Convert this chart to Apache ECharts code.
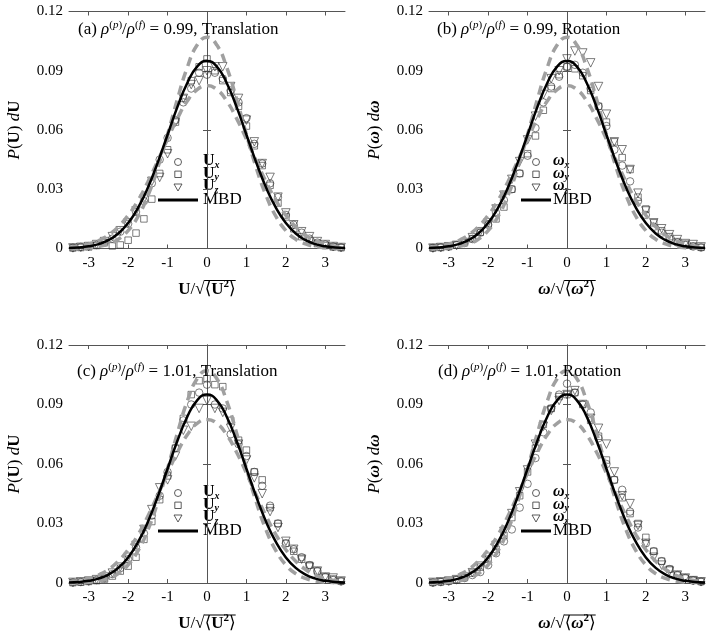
<!DOCTYPE html>
<html><head><meta charset="utf-8">
<script src="https://cdn.jsdelivr.net/npm/echarts@6/dist/echarts.min.js"></script>
<style>html,body{margin:0;padding:0;background:#fff}#c{width:714px;height:641px}</style>
</head><body><div id="c"></div>
<script>
// bin centres of the histograms
const xs = [-3.4,-3.2,-3.0,-2.8,-2.6,-2.4,-2.2,-2.0,-1.8,-1.6,-1.4,-1.2,-1.0,-0.8,-0.6,-0.4,-0.2,0,0.2,0.4,0.6,0.8,1.0,1.2,1.4,1.6,1.8,2.0,2.2,2.4,2.6,2.8,3.0,3.2,3.4];
// x positions of the curves
const xc = [-3.5,-3.25,-3.0,-2.75,-2.5,-2.25,-2.0,-1.75,-1.5,-1.25,-1.0,-0.75,-0.5,-0.25,0,0.25,0.5,0.75,1.0,1.25,1.5,1.75,2.0,2.25,2.5,2.75,3.0,3.25,3.5];
const mbd = [0.0002,0.0005,0.0011,0.0022,0.0042,0.0076,0.0129,0.0206,0.0308,0.0435,0.0576,0.0717,0.0838,0.0921,0.0950,0.0921,0.0838,0.0717,0.0576,0.0435,0.0308,0.0206,0.0129,0.0076,0.0042,0.0022,0.0011,0.0005,0.0002];
const dashHigh = [0.0001,0.0002,0.0004,0.0010,0.0023,0.0047,0.0091,0.0162,0.0267,0.0408,0.0577,0.0756,0.0917,0.1030,0.1070,0.1030,0.0917,0.0756,0.0577,0.0408,0.0267,0.0162,0.0091,0.0047,0.0023,0.0010,0.0004,0.0002,0.0001];
const dashLow = [0.0006,0.0012,0.0023,0.0040,0.0068,0.0110,0.0168,0.0243,0.0337,0.0443,0.0554,0.0659,0.0747,0.0805,0.0825,0.0805,0.0747,0.0659,0.0554,0.0443,0.0337,0.0243,0.0168,0.0110,0.0068,0.0040,0.0023,0.0012,0.0006];

// (a) 0.99 translation
const aX = [0.0004,0.0008,0.0012,0.0018,0.0030,0.0050,0.0085,0.0125,0.0185,0.0240,0.0330,0.0450,0.0560,0.0650,0.0740,0.0810,0.0890,0.0880,0.0890,0.0860,0.0800,0.0740,0.0660,0.0530,0.0430,0.0330,0.0260,0.0170,0.0120,0.0080,0.0050,0.0030,0.0020,0.0010,0.0006];
const aY = [0.0003,0.0005,0.0008,0.0015,0.0030,0.0013,0.0018,0.0042,0.0078,0.0150,0.0250,0.0380,0.0500,0.0640,0.0760,0.0850,0.0920,0.0960,0.0900,0.0850,0.0790,0.0720,0.0620,0.0520,0.0420,0.0320,0.0230,0.0160,0.0100,0.0060,0.0040,0.0025,0.0015,0.0008,0.0004];
const aZ = [0.0003,0.0006,0.0010,0.0020,0.0035,0.0060,0.0090,0.0130,0.0190,0.0250,0.0340,0.0360,0.0480,0.0640,0.0760,0.0830,0.0850,0.0900,0.0920,0.0920,0.0820,0.0760,0.0650,0.0540,0.0430,0.0360,0.0260,0.0180,0.0120,0.0085,0.0060,0.0035,0.0020,0.0010,0.0005];
// (b) 0.99 rotation
const bX = [0.0003,0.0006,0.0010,0.0017,0.0028,0.0048,0.0080,0.0120,0.0180,0.0245,0.0300,0.0380,0.0470,0.0610,0.0740,0.0820,0.0870,0.0920,0.0930,0.0890,0.0810,0.0720,0.0620,0.0500,0.0420,0.0340,0.0240,0.0170,0.0110,0.0080,0.0050,0.0030,0.0018,0.0010,0.0005];
const bY = [0.0003,0.0005,0.0010,0.0018,0.0030,0.0050,0.0082,0.0125,0.0150,0.0210,0.0300,0.0380,0.0480,0.0570,0.0700,0.0810,0.0880,0.0920,0.0910,0.0875,0.0800,0.0720,0.0640,0.0540,0.0460,0.0400,0.0260,0.0200,0.0130,0.0090,0.0060,0.0035,0.0022,0.0012,0.0006];
const bZ = [0.0002,0.0005,0.0009,0.0016,0.0030,0.0055,0.0085,0.0130,0.0200,0.0270,0.0350,0.0440,0.0550,0.0670,0.0780,0.0860,0.0900,0.0960,0.1000,0.0990,0.0940,0.0820,0.0680,0.0540,0.0500,0.0400,0.0280,0.0190,0.0130,0.0100,0.0070,0.0045,0.0025,0.0020,0.0008];
// (c) 1.01 translation
const cX = [0.0003,0.0005,0.0009,0.0015,0.0025,0.0045,0.0075,0.0120,0.0180,0.0250,0.0340,0.0440,0.0560,0.0680,0.0820,0.0900,0.0960,0.1000,0.0900,0.0880,0.0750,0.0700,0.0640,0.0560,0.0490,0.0390,0.0300,0.0200,0.0170,0.0130,0.0090,0.0060,0.0030,0.0015,0.0008];
const cY = [0.0002,0.0004,0.0008,0.0012,0.0020,0.0035,0.0060,0.0085,0.0130,0.0220,0.0310,0.0420,0.0540,0.0680,0.0830,0.0950,0.1020,0.1030,0.1000,0.0990,0.0820,0.0720,0.0670,0.0560,0.0520,0.0380,0.0300,0.0200,0.0160,0.0120,0.0090,0.0060,0.0030,0.0020,0.0010];
const cZ = [0.0003,0.0006,0.0010,0.0017,0.0030,0.0050,0.0080,0.0130,0.0190,0.0270,0.0370,0.0480,0.0520,0.0640,0.0770,0.0790,0.0880,0.0920,0.0880,0.0860,0.0780,0.0700,0.0620,0.0530,0.0450,0.0360,0.0280,0.0210,0.0170,0.0120,0.0080,0.0060,0.0030,0.0025,0.0010];
// (d) 1.01 rotation
const dX = [0.0002,0.0005,0.0009,0.0015,0.0025,0.0040,0.0055,0.0090,0.0150,0.0210,0.0270,0.0380,0.0500,0.0630,0.0760,0.0880,0.0950,0.1005,0.0960,0.0900,0.0860,0.0730,0.0600,0.0520,0.0470,0.0360,0.0280,0.0200,0.0160,0.0110,0.0070,0.0040,0.0025,0.0012,0.0006];
const dY = [0.0003,0.0006,0.0010,0.0017,0.0028,0.0050,0.0080,0.0120,0.0170,0.0240,0.0330,0.0440,0.0560,0.0680,0.0800,0.0880,0.0940,0.0950,0.0960,0.0900,0.0820,0.0740,0.0620,0.0520,0.0430,0.0350,0.0300,0.0230,0.0160,0.0110,0.0070,0.0040,0.0025,0.0015,0.0008];
const dZ = [0.0003,0.0006,0.0010,0.0017,0.0030,0.0052,0.0085,0.0130,0.0190,0.0260,0.0350,0.0460,0.0570,0.0700,0.0790,0.0870,0.0920,0.0950,0.0970,0.0900,0.0830,0.0780,0.0700,0.0560,0.0440,0.0400,0.0290,0.0200,0.0130,0.0090,0.0060,0.0040,0.0025,0.0012,0.0006];

const xTicks = [-3,-2,-1,0,1,2,3];
const ratios = ['0.99','0.99','1.01','1.01'];
const kinds = ['Translation','Rotation','Translation','Rotation'];
const letters = ['a','b','c','d'];

const panels = [
  {data:[aX,aY,aZ], left:69, top:11.5, h:237, rot:false},
  {data:[bX,bY,bZ], left:429, top:11.5, h:237, rot:true},
  {data:[cX,cY,cZ], left:69, top:345, h:238, rot:false},
  {data:[dX,dY,dZ], left:429, top:345, h:238, rot:true}
];
const W = 276;
const SERIF = '"Liberation Serif","DejaVu Serif",serif';
const axisCol = '#555';

function mk(size, weight, style, extra){
  return Object.assign({fontFamily:SERIF,fontSize:size,fontWeight:weight,fontStyle:style,color:'#000'}, extra||{});
}
const rich = {
  n:mk(17,'normal','normal',{lineHeight:22}),
  i:mk(17,'normal','italic',{lineHeight:22}),
  b:mk(17,'bold','normal',{lineHeight:22}),
  bi:mk(17,'bold','italic',{lineHeight:22}),
  t:mk(17,'normal','normal',{lineHeight:20}),
  ti:mk(17,'normal','italic',{lineHeight:20}),
  sup:mk(11,'normal','normal',{lineHeight:11,verticalAlign:'top'}),
  supi:mk(11,'normal','italic',{lineHeight:11,verticalAlign:'top'}),
  supb:mk(11,'bold','normal',{lineHeight:12,verticalAlign:'top'}),
  lb:mk(16,'bold','normal',{lineHeight:18}),
  lbi:mk(16,'bold','italic',{lineHeight:18}),
  sub:mk(10,'bold','italic',{lineHeight:9,verticalAlign:'bottom'})
};

// text measuring for the radical overline
const mctx = document.createElement('canvas').getContext('2d');
function tw(st, s){ mctx.font = st.fontStyle+' '+st.fontWeight+' '+st.fontSize+'px '+SERIF; return mctx.measureText(s).width; }

const grid=[], xAxis=[], yAxis=[], series=[], title=[], graphic=[];
panels.forEach((p,k)=>{
  grid.push({left:p.left, top:p.top, width:W, height:p.h, containLabel:false});
  const sk = p.rot ? 'bi' : 'b';
  const sc = p.rot ? 'ω' : 'U';
  const sym = '{'+sk+'|'+sc+'}';
  const nameGap = 30;
  xAxis.push({
    type:'value', gridIndex:k, min:-3.5, max:3.5, position:'bottom',
    axisLine:{onZero:false, lineStyle:{color:axisCol,width:1}},
    axisTick:{inside:true, length:4, customValues:xTicks, lineStyle:{color:axisCol}},
    axisLabel:{customValues:xTicks, fontFamily:SERIF, fontSize:15, color:'#000', margin:7},
    splitLine:{show:false},
    name: sym+'{n|/√}{n|⟨}'+sym+'{supb|2}{n|⟩}', nameLocation:'middle', nameGap:nameGap,
    nameTextStyle:{rich:rich}
  });
  xAxis.push({
    type:'value', gridIndex:k, min:-3.5, max:3.5, position:'top',
    axisLine:{onZero:false, lineStyle:{color:axisCol,width:1}},
    axisTick:{inside:true, length:4, customValues:xTicks, lineStyle:{color:axisCol}},
    axisLabel:{show:false}, splitLine:{show:false}
  });
  yAxis.push({
    type:'value', gridIndex:k, min:0, max:0.12, interval:0.03, position:'left',
    axisLine:{show:true, lineStyle:{color:axisCol,width:1}},
    axisTick:{show:true, inside:true, length:4, lineStyle:{color:axisCol}},
    axisLabel:{fontFamily:SERIF, fontSize:15, color:'#000', margin:6,
      formatter:v=> v===0 ? '0' : v.toFixed(2)},
    splitLine:{show:false},
    name:'{i|P}{n|(}'+sym+'{n|) }{i|d}'+sym, nameLocation:'middle', nameGap:43, nameRotate:90,
    nameTextStyle:{rich:rich}
  });
  yAxis.push({
    type:'value', gridIndex:k, min:0, max:0.12, interval:0.03, position:'right',
    axisLine:{show:true, lineStyle:{color:axisCol,width:1}},
    axisTick:{show:true, inside:true, length:4, lineStyle:{color:axisCol}},
    axisLabel:{show:false}, splitLine:{show:false}
  });
  const xi = 2*k, yi = 2*k;
  const symbols = [['circle',7.5,0],['rect',6.5,0],['triangle',8.5,180]];
  p.data.forEach((arr,j)=>{
    series.push({
      type:'scatter', xAxisIndex:xi, yAxisIndex:yi, z:2,
      symbol:symbols[j][0], symbolSize:symbols[j][1], symbolRotate:symbols[j][2],
      itemStyle:{color:'rgba(255,255,255,0)', borderColor:'#333', borderWidth:0.8},
      data: xs.map((x,i)=>[x,arr[i]]), silent:true
    });
  });
  [dashHigh,dashLow].forEach(arr=>{
    series.push({
      type:'line', xAxisIndex:xi, yAxisIndex:yi, z:3, smooth:true, symbol:'none',
      lineStyle:{color:'#a0a0a0', width:3.5, type:[9,6]},
      data: xc.map((x,i)=>[x,arr[i]]), silent:true
    });
  });
  series.push({
    type:'line', xAxisIndex:xi, yAxisIndex:yi, z:4, smooth:true, symbol:'none',
    lineStyle:{color:'#000', width:2.5},
    data: xc.map((x,i)=>[x,mbd[i]]), silent:true
  });
  // panel title
  const tl = [78,437,77,438][k], tt = [20,20,362,362][k];
  title.push({
    left:tl, top:tt, padding:0,
    text:'{t|('+letters[k]+') }{ti|ρ}{sup|(}{supi|p}{sup|)}{t|/}{ti|ρ}{sup|(}{supi|f}{sup|)}{t| = '+ratios[k]+', '+kinds[k]+'}',
    textStyle:{rich:rich, fontWeight:'normal'}
  });
  // legend (drawn as graphic)
  const lx = p.rot ? 536 : 178;
  const ly = k<2 ? 162 : 493;
  const tx = p.rot ? 553 : 203;
  const lk = p.rot ? 'lbi' : 'lb';
  const names = ['x','y','z'].map(s=>'{'+lk+'|'+sc+'}{sub|'+s+'}');
  const st = {fill:'none', stroke:'#333', lineWidth:0.8};
  graphic.push({type:'circle', shape:{cx:lx, cy:ly, r:3.5}, style:st});
  graphic.push({type:'rect', shape:{x:lx-3.2, y:ly+12.3-3.2, width:6.4, height:6.4}, style:st});
  graphic.push({type:'polygon', shape:{points:[[lx-4,ly+25-3],[lx+4,ly+25-3],[lx,ly+25+4]]}, style:st});
  graphic.push({type:'line', shape:{x1:p.rot?521:158, y1:ly+38, x2:p.rot?551:198, y2:ly+38}, style:{stroke:'#000', lineWidth:3}});
  names.forEach((nm,j)=>{
    graphic.push({type:'text', x:tx, y:ly-1+j*12.5, style:{text:nm, rich:rich, verticalAlign:'middle', align:'left'}});
  });
  graphic.push({type:'text', x:tx, y:ly+38, style:{text:'{t|MBD}', rich:rich, verticalAlign:'middle', align:'left'}});
  // radical overline on x-axis name
  const wSym = tw(rich[sk], sc), wSl = tw(rich.n,'/√'), wL = tw(rich.n,'⟨'), w2 = tw(rich.supb,'2'), wR = tw(rich.n,'⟩');
  const total = wSym + wSl + wL + wSym + w2 + wR;
  const cx = p.left + W/2;
  const x0 = cx - total/2 + wSym + wSl - 0.5;
  const x1 = cx + total/2;
  const oy = p.top + p.h + nameGap + 2;
  graphic.push({type:'line', shape:{x1:x0, y1:oy, x2:x1, y2:oy}, style:{stroke:'#000', lineWidth:1}});
});

const chart = echarts.init(document.getElementById('c'), null, {renderer:'canvas'});
chart.setOption({
  backgroundColor:'#fff', animation:false,
  grid, xAxis, yAxis, series, title, graphic
});
</script></body></html>
